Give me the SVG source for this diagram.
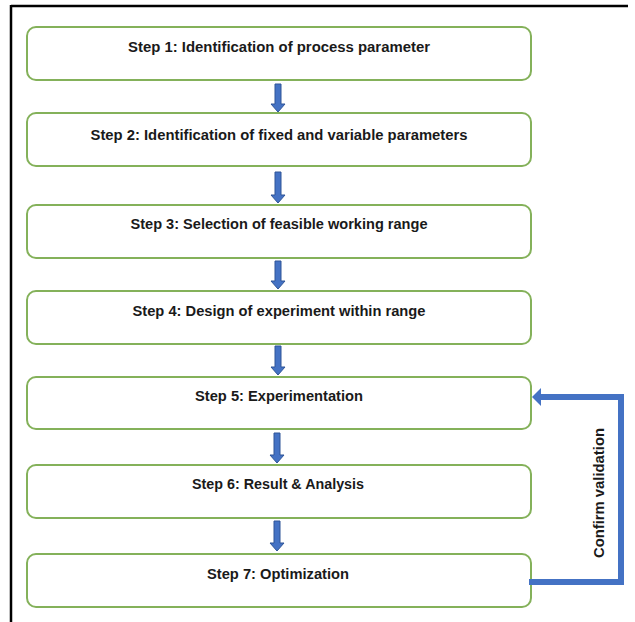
<svg xmlns="http://www.w3.org/2000/svg" width="635" height="622" viewBox="0 0 635 622">
<defs>
<style>
.box{fill:#ffffff;stroke:#84b15a;stroke-width:2}
.t{font-family:"Liberation Sans",Arial,sans-serif;font-weight:bold;font-size:14px;fill:#1a1a1a;text-anchor:middle}
.arr{fill:#4472c4;stroke:#2f5597;stroke-width:1}
.fb{fill:none;stroke:#4472c4;stroke-width:6}
</style>
</defs>
<rect width="635" height="622" fill="#ffffff"/>
<g id="frame">
<line x1="11" y1="6" x2="628" y2="6" stroke="#000" stroke-width="2.5"/>
<line x1="11" y1="5" x2="11" y2="622" stroke="#000" stroke-width="2.5"/>
</g>
<g id="step1"><rect class="box" x="27" y="27" width="504" height="53" rx="9"/><text class="t" x="279" y="52" textLength="302" lengthAdjust="spacingAndGlyphs">Step 1:  Identification of process parameter</text></g>
<g id="step2"><rect class="box" x="27" y="113" width="504" height="53" rx="9"/><text class="t" x="279" y="140" textLength="377" lengthAdjust="spacingAndGlyphs">Step 2: Identification of fixed and variable parameters</text></g>
<g id="step3"><rect class="box" x="27" y="205" width="504" height="53" rx="9"/><text class="t" x="279" y="229" textLength="297" lengthAdjust="spacingAndGlyphs">Step 3: Selection of feasible working range</text></g>
<g id="step4"><rect class="box" x="27" y="291" width="504" height="53" rx="9"/><text class="t" x="279" y="316" textLength="293" lengthAdjust="spacingAndGlyphs">Step 4: Design of experiment within range</text></g>
<g id="step5"><rect class="box" x="27" y="377" width="504" height="52" rx="9"/><text class="t" x="279" y="401" textLength="168" lengthAdjust="spacingAndGlyphs">Step 5: Experimentation</text></g>
<g id="step6"><rect class="box" x="27" y="465" width="504" height="53" rx="9"/><text class="t" x="278" y="489" textLength="172" lengthAdjust="spacingAndGlyphs">Step 6: Result &amp; Analysis</text></g>
<g id="step7"><rect class="box" x="27" y="554" width="504" height="53" rx="9"/><text class="t" x="278" y="579" textLength="142" lengthAdjust="spacingAndGlyphs">Step 7: Optimization</text></g>
<g id="connectors">
<path class="arr" d="M275,84 H281 V104 H285 L278,112 L271,104 H275 Z"/>
<path class="arr" d="M275,172 H281 V195 H285 L278,203 L271,195 H275 Z"/>
<path class="arr" d="M275,261 H281 V281 H285 L278,289 L271,281 H275 Z"/>
<path class="arr" d="M275,346 H281 V367 H285 L278,375 L271,367 H275 Z"/>
<path class="arr" d="M274,433 H280 V455 H284 L277,463 L270,455 H274 Z"/>
<path class="arr" d="M274,521 H280 V543 H284 L277,551 L270,543 H274 Z"/>
<path class="fb" d="M529,582 H621 V397 H541"/>
<path fill="#4472c4" d="M532,397 L541,388 V406 Z"/>
<text class="t" transform="translate(604,493) rotate(-90)" textLength="130" lengthAdjust="spacingAndGlyphs">Confirm validation</text>
</g>
</svg>
